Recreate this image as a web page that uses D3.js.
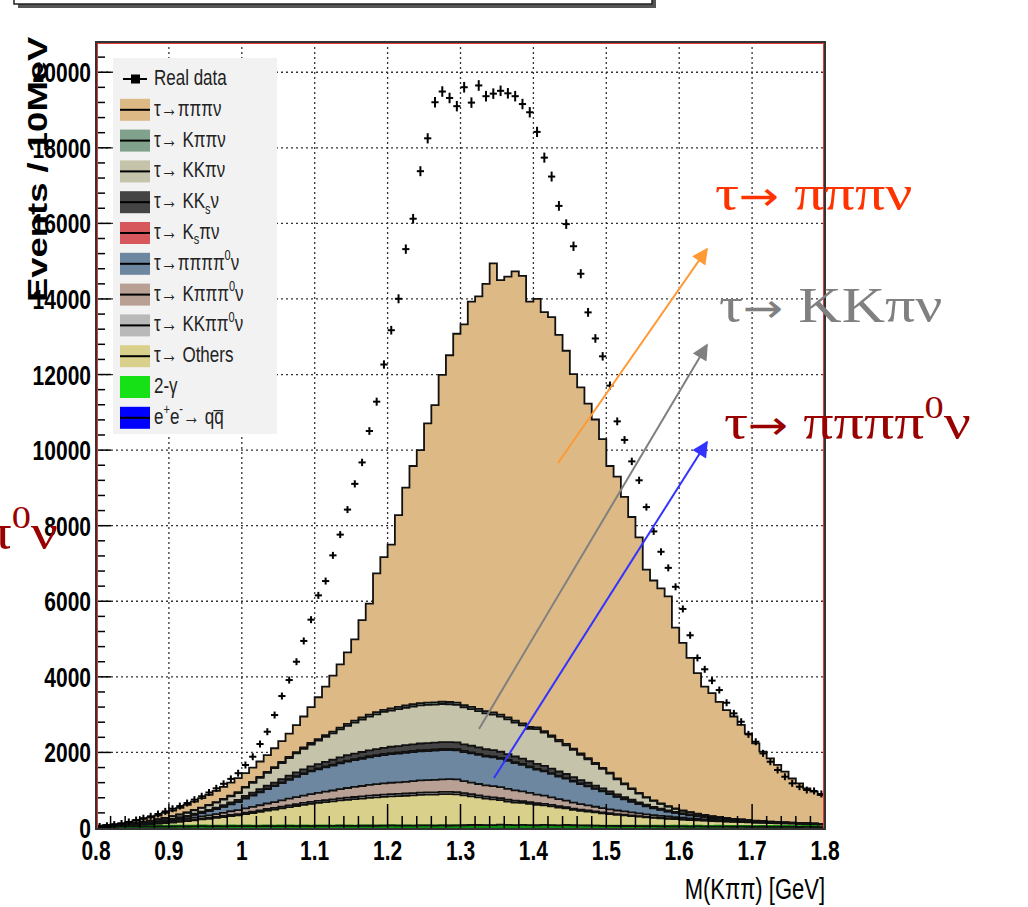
<!DOCTYPE html>
<html>
<head>
<meta charset="utf-8">
<script src="https://d3js.org/d3.v7.min.js"></script>
<style>
  body { margin: 0; background: #fff; }
  svg { display: block; }
</style>
</head>
<body>
<div class="vis"></div>
<script>
  let width = 1028
  let height = 907
  let frame = { left: 96, right: 825, top: 42, bottom: 828 }
  let stretch = 1.35   // the original plot image is squashed horizontally

  // 100 bins of 10 MeV from 0.8 to 1.8 GeV
  let binLow = 0.8
  let binWidth = 0.01

  let realData = [40,60,90,120,160,210,260,310,370,440, 510,580,660,750,840,940,1050,1170,1300,1450,
    1667,1886,2222,2548,2989,3492,3915,4400,4950,5513, 6156,6535,7215,7764,8426,9107,9674,10506,11282,12265,
    13173,14005,15319,16123,17381,18251,19206,19489,19319,19102, 19603,19196,19650,19366,19433,19508,19442,19366,19158,18941,
    18421,17740,17239,16463,15981,15395,14667,13645,12955,12482, 11707,10761,10270,9702,9201,8492,7849,7310,6884,6383,
    5797,5100,4500,4200,3900,3650,3315,3034,2812,2478, 2283,1975,1754,1534,1357,1182,1093,1005,980,900]

  let twoGamma = [25,30,28,32,30,35,33,30,34,31, 33,36,32,35,38,34,36,33,37,35, 38,34,36,39,35,37,40,36,38,35,
    37,39,36,40,38,35,39,37,36,38, 40,37,39,36,38,41,37,39,36,38, 37,39,35,38,36,39,37,35,38,36,
    35,37,34,36,38,35,33,36,34,32, 34,31,33,35,32,30,33,31,29,32, 30,28,31,29,27,30,28,26,29,27,
    25,28,26,24,27,25,23,26,24,22]

  let qqbar = [0,2,3,3,4,5,5,6,6,7, 7,8,8,9,9,10,10,11,11,12, 12,13,13,14,14,15,15,16,16,17,
    17,18,18,19,19,20,20,22,24,26, 28,26,24,28,30,26,28,32,30,34, 36,40,45,38,42,48,44,40,46,42,
    38,44,40,36,42,38,34,30,28,26, 24,22,20,18,17,16,15,14,13,12, 11,10,10,9,9,8,8,7,7,6,
    6,5,5,5,4,4,4,3,3,3]

  let tauOthers = [10,15,20,25,30,40,50,60,75,90, 105,120,140,160,180,200,220,245,270,290,
    320,350,380,410,440,470,500,530,560,590, 610,630,650,670,690,710,720,740,750,760,
    770,780,790,800,810,815,820,825,830,820, 790,760,730,700,680,650,620,600,580,560,
    540,520,500,470,440,410,390,370,350,330, 310,295,280,265,250,235,220,210,200,190,
    180,172,164,156,148,140,134,128,122,116, 110,105,100,96,92,88,84,80,76,72]

  let tauKKPiPi0 = [0,0,0,0,2,4,6,8,10,12, 14,16,18,20,22,24,26,28,30,32, 34,36,38,40,42,44,46,48,50,50,
    52,52,54,54,56,56,58,58,60,60, 60,60,60,60,60,60,60,58,58,56, 56,54,54,52,52,50,50,48,46,44,
    42,40,38,36,34,32,30,28,26,24, 22,20,18,17,16,15,14,13,12,11, 10,9,8,8,7,7,6,6,5,5,
    5,4,4,4,3,3,3,3,2,2]

  let tauKPiPiPi0 = [0,0,2,4,6,9,12,16,20,25, 30,36,42,50,58,66,75,85,95,105, 115,125,135,145,155,165,175,185,195,205,
    215,225,235,245,255,265,275,285,290,295, 300,305,310,315,320,325,330,335,340,340,
    320,310,300,300,300,295,285,275,260,245, 230,215,200,185,170,155,145,135,125,115,
    105,95,88,80,72,66,60,55,50,45, 40,36,32,28,25,22,20,18,16,14, 12,11,10,9,8,7,6,6,5,5]

  let tauPiPiPiPi0 = [0,0,2,5,8,12,16,20,26,32, 40,50,60,75,90,110,130,155,180,210,
    260,300,340,380,420,460,500,540,570,600, 620,640,660,680,700,710,720,730,740,750,
    755,760,765,770,770,770,770,770,770,770, 770,770,770,760,760,750,740,720,700,680,
    660,640,620,600,580,560,530,500,470,440, 400,360,320,280,245,210,180,155,130,110,
    95,80,68,58,48,40,33,27,22,18, 15,12,10,8,7,6,5,4,3,2]

  let tauKsPi = [0,0,0,0,0,1,1,2,2,3, 3,4,5,6,7,8,9,10,11,12, 13,14,15,16,17,18,19,20,21,22,
    23,24,25,26,27,28,29,30,30,30, 31,31,32,32,32,32,32,32,31,31, 30,30,29,28,27,26,25,24,23,22,
    21,20,19,18,17,16,15,14,13,12, 11,10,9,8,8,7,7,6,6,5, 5,4,4,4,3,3,3,2,2,2, 2,2,1,1,1,1,1,1,1,1]

  let tauKKs = [0,0,0,1,2,3,4,6,8,10, 12,15,18,22,26,30,35,40,45,50, 56,62,68,74,80,86,92,98,104,110,
    116,122,128,134,140,146,150,154,158,162, 166,170,172,174,176,178,180,180,180,178,
    176,174,172,168,164,160,156,150,144,138, 132,126,120,114,108,100,92,84,76,68,
    62,56,50,45,40,36,32,28,25,22, 19,16,14,12,10,9,8,7,6,5, 4,4,3,3,2,2,2,1,1,1]

  let tauKKPi = [5,10,15,20,25,30,36,42,48,55, 62,70,80,90,100,115,130,145,160,180,
    220,260,300,340,380,420,460,500,540,580, 620,660,700,740,780,820,860,890,920,950,
    960,975,990,1000,1010,1010,1010,1010,1000,990, 980,970,960,950,940,930,920,900,880,860,
    920,880,840,800,760,720,670,620,570,520, 470,400,340,280,230,190,155,125,100,80,
    65,55,45,38,32,27,23,19,16,13, 11,9,7,6,5,4,3,3,2,2]

  let tauKPiPi = [0,0,1,1,2,2,3,3,4,5, 6,7,8,9,10,12,14,16,18,20, 22,24,26,28,30,32,34,36,38,40,
    42,44,46,48,50,52,54,55,56,57, 58,59,60,60,60,60,60,60,60,60, 59,58,57,56,55,54,52,50,48,46,
    44,42,40,38,36,34,32,30,28,26, 24,22,20,18,16,14,12,11,10,9, 8,7,6,5,5,4,4,3,3,3, 2,2,2,2,1,1,1,1,1,1]

  let tauPiPiPi = [20,23,29,34,41,59,74,87,97,130, 148,168,199,224,250,271,295,322,343,374,
    360,382,409,444,497,553,619,711,818,951, 1108,1286,1478,1674,1895,2148,2575,2939,3676,4042,
    4332,5077,5768,6305,6694,7393,7863,8649,9175,9763, 10076,10725,10918,11310,11884,11498,11661,11888,11845,11257,
    11338,11086,11069,10717,10405,9910,9689,9383,9090,8697, 8118,7989,7582,7184,6764,6021,5822,5692,5555,4784,
    4437,4083,3718,3393,3256,3050,2853,2707,2502,2291, 2048,1838,1672,1512,1340,1169,1048,922,842,759]

  // stacking order, bottom first
  let stackKeys = ['twoGamma', 'qqbar', 'tauOthers', 'tauKKPiPi0', 'tauKPiPiPi0', 'tauPiPiPiPi0',
    'tauKsPi', 'tauKKs', 'tauKKPi', 'tauKPiPi', 'tauPiPiPi']
  let series = { twoGamma, qqbar, tauOthers, tauKKPiPi0, tauKPiPiPi0, tauPiPiPiPi0,
    tauKsPi, tauKKs, tauKKPi, tauKPiPi, tauPiPiPi }
  let colors = {
    tauPiPiPi: '#dcb985', tauKPiPi: '#80a28c', tauKKPi: '#c6c3ab', tauKKs: '#444444',
    tauKsPi: '#d6585c', tauPiPiPiPi0: '#6d87a0', tauKPiPiPi0: '#b9a094', tauKKPiPi0: '#b9b9b9',
    tauOthers: '#d9d08b', twoGamma: '#16e016', qqbar: '#0000ff'
  }

  // legend rows, top to bottom: [key, label pieces]
  let legendRows = [
    ['data', [['Real data', '']]],
    ['tauPiPiPi', [['τ→πππν', '']]],
    ['tauKPiPi', [['τ→ Kππν', '']]],
    ['tauKKPi', [['τ→ KKπν', '']]],
    ['tauKKs', [['τ→ KK', ''], ['s', 'sub'], ['ν', '']]],
    ['tauKsPi', [['τ→ K', ''], ['s', 'sub'], ['πν', '']]],
    ['tauPiPiPiPi0', [['τ→ππππ', ''], ['0', 'sup'], ['ν', '']]],
    ['tauKPiPiPi0', [['τ→ Kπππ', ''], ['0', 'sup'], ['ν', '']]],
    ['tauKKPiPi0', [['τ→ KKππ', ''], ['0', 'sup'], ['ν', '']]],
    ['tauOthers', [['τ→ Others', '']]],
    ['twoGamma', [['2-γ', '']]],
    ['qqbar', [['e', ''], ['+', 'sup'], ['e', ''], ['-', 'sup'], ['→ qq̅', '']]]
  ]

  let xTicks = [0.8, 0.9, 1.0, 1.1, 1.2, 1.3, 1.4, 1.5, 1.6, 1.7, 1.8]
  let xTickLabels = ['0.8', '0.9', '1', '1.1', '1.2', '1.3', '1.4', '1.5', '1.6', '1.7', '1.8']
  let yTicks = [0, 2000, 4000, 6000, 8000, 10000, 12000, 14000, 16000, 18000, 20000]

  let svg = d3.select('.vis').append('svg').attr('width', width).attr('height', height)
    .attr('viewBox', [0, 0, width, height])
  svg.append('rect').attr('width', width).attr('height', height).attr('fill', '#fff')

  let x = d3.scaleLinear().domain([0.8, 1.8]).range([frame.left, frame.right])
  let y = d3.scaleLinear().domain([0, 20800]).range([frame.bottom, frame.top])

  // title box cut at the top of the picture
  svg.append('rect').attr('x', 18).attr('y', -30).attr('width', 638).attr('height', 38).attr('fill', '#555')
  svg.append('rect').attr('x', 14).attr('y', -34).attr('width', 638).attr('height', 38)
    .attr('fill', '#fff').attr('stroke', '#222').attr('stroke-width', 1.5)

  // grid
  let grid = svg.append('g').attr('stroke', '#333').attr('stroke-width', 1.3).attr('stroke-dasharray', '2,3')
  grid.selectAll('.gx').data(xTicks.slice(1, -1)).join('line')
    .attr('x1', d => x(d)).attr('x2', d => x(d)).attr('y1', frame.top).attr('y2', frame.bottom)
  grid.selectAll('.gy').data(yTicks.slice(1)).join('line')
    .attr('x1', frame.left).attr('x2', frame.right).attr('y1', d => y(d)).attr('y2', d => y(d))

  // stacked histogram
  let table = d3.range(realData.length).map(i => {
    let row = { lo: binLow + i * binWidth, hi: binLow + (i + 1) * binWidth }
    stackKeys.forEach(k => row[k] = series[k][i])
    return row
  })
  let stacked = d3.stack().keys(stackKeys)(table)

  let steps = s => s.flatMap(d => [
    { x: d.data.lo, y0: d[0], y1: d[1] },
    { x: d.data.hi, y0: d[0], y1: d[1] }
  ])
  let area = d3.area().x(d => x(d.x)).y0(d => y(d.y0)).y1(d => y(d.y1))
  let outline = d3.line().x(d => x(d.x)).y(d => y(d.y1))

  let hist = svg.append('g')
  hist.selectAll('path.fill').data(stacked).join('path')
    .attr('class', 'fill')
    .attr('d', s => area(steps(s)))
    .attr('fill', s => colors[s.key])
  hist.selectAll('path.edge').data(stacked).join('path')
    .attr('class', 'edge')
    .attr('d', s => outline(steps(s)))
    .attr('fill', 'none')
    .attr('stroke', s => s.key === 'twoGamma' ? '#0b8f0b' : '#111')
    .attr('stroke-width', s => s.key === 'twoGamma' ? 4 : 1.8)

  // data points
  let pts = svg.append('g').attr('stroke', '#000').attr('stroke-width', 2)
  realData.forEach((v, i) => {
    let c = binLow + (i + 0.5) * binWidth
    let e = Math.max(y(v) - y(v + Math.sqrt(v)), 3.5)
    pts.append('line').attr('x1', x(c) - 3.6).attr('x2', x(c) + 3.6).attr('y1', y(v)).attr('y2', y(v))
    pts.append('line').attr('x1', x(c)).attr('x2', x(c)).attr('y1', y(v) - e).attr('y2', y(v) + e)
  })

  // axis ticks
  let ticks = svg.append('g').attr('stroke', '#000').attr('stroke-width', 1.5)
  d3.range(0, 51).forEach(j => {
    let v = 0.8 + j * 0.02
    let major = j % 5 === 0
    ticks.append('line').attr('x1', x(v)).attr('x2', x(v))
      .attr('y1', frame.bottom).attr('y2', frame.bottom - (major ? 24 : 12))
  })
  d3.range(0, 53).forEach(j => {
    let v = j * 400
    let major = j % 5 === 0
    ticks.append('line').attr('x1', frame.left).attr('x2', frame.left + (major ? 15 : 9))
      .attr('y1', y(v)).attr('y2', y(v))
  })

  let label = (g, tx, ty, txt, opts) => g.append('text')
    .attr('transform', `translate(${tx},${ty}) scale(1,${stretch})`)
    .attr('text-anchor', opts.anchor || 'middle')
    .attr('font-family', 'Liberation Sans, Arial, sans-serif')
    .attr('font-size', opts.size)
    .attr('font-weight', opts.weight || 'normal')
    .attr('fill', opts.fill || '#000')
    .text(txt)

  let axes = svg.append('g')
  xTicks.forEach((v, i) => label(axes, x(v), 860, xTickLabels[i], { size: 21, weight: 'bold' }))
  yTicks.forEach(v => label(axes, 91, y(v) + 10, d3.format('d')(v), { size: 21, weight: 'bold', anchor: 'end' }))
  label(axes, 825, 899, 'M(Kππ) [GeV]', { size: 22, anchor: 'end' })
  axes.append('text')
    .attr('transform', `translate(47,302) rotate(-90) scale(${stretch},1)`)
    .attr('font-family', 'Liberation Sans, Arial, sans-serif')
    .attr('font-size', 27).attr('font-weight', 'bold')
    .text('Events / 10MeV')

  // legend
  let leg = svg.append('g')
  leg.append('rect').attr('x', 113).attr('y', 58).attr('width', 164).attr('height', 376).attr('fill', '#f2f2f2')
  legendRows.forEach(([key, pieces], k) => {
    let cy = 79 + k * 30.8
    if (key === 'data') {
      leg.append('line').attr('x1', 123).attr('x2', 147).attr('y1', cy).attr('y2', cy)
        .attr('stroke', '#000').attr('stroke-width', 2)
      leg.append('rect').attr('x', 131).attr('y', cy - 4.5).attr('width', 9).attr('height', 9).attr('fill', '#000')
    } else {
      leg.append('rect').attr('x', 120).attr('y', cy - 11).attr('width', 30).attr('height', 22)
        .attr('fill', colors[key])
      if (key !== 'twoGamma') {
        leg.append('line').attr('x1', 120).attr('x2', 150).attr('y1', cy).attr('y2', cy)
          .attr('stroke', '#000').attr('stroke-width', 2)
      }
    }
    let t = leg.append('text')
      .attr('transform', `translate(154,${cy + 6}) scale(1,${stretch})`)
      .attr('font-family', 'Liberation Sans, Arial, sans-serif')
      .attr('font-size', 17).attr('fill', '#222')
    let shift = 0
    pieces.forEach(([s, mode]) => {
      let span = t.append('tspan').text(s)
      let target = mode === 'sub' ? 4 : mode === 'sup' ? -7 : 0
      if (mode) span.attr('font-size', 11)
      if (target !== shift) span.attr('dy', target - shift)
      shift = target
    })
  })

  // frame
  svg.append('rect').attr('x', frame.left + 1.5).attr('y', frame.top + 1.5)
    .attr('width', frame.right - frame.left - 3).attr('height', frame.bottom - frame.top)
    .attr('fill', 'none').attr('stroke', '#e03a3a').attr('stroke-width', 1)
  svg.append('rect').attr('x', frame.left).attr('y', frame.top)
    .attr('width', frame.right - frame.left).attr('height', frame.bottom - frame.top + 1)
    .attr('fill', 'none').attr('stroke', '#333').attr('stroke-width', 2)

  // annotations added on top of the plot
  let notes = [
    { color: '#ff9933', from: [558, 463], to: [707, 249] },
    { color: '#808080', from: [479, 729], to: [707, 345] },
    { color: '#3333ff', from: [494, 778], to: [707, 442] }
  ]
  let defs = svg.append('defs')
  notes.forEach((n, i) => {
    defs.append('marker').attr('id', 'arr' + i).attr('viewBox', '0 0 10 10')
      .attr('refX', 9).attr('refY', 5).attr('markerWidth', 9).attr('markerHeight', 8)
      .attr('markerUnits', 'strokeWidth').attr('orient', 'auto')
      .append('path').attr('d', 'M0,0 L10,5 L0,10 Z').attr('fill', n.color)
    svg.append('line').attr('x1', n.from[0]).attr('y1', n.from[1]).attr('x2', n.to[0]).attr('y2', n.to[1])
      .attr('stroke', n.color).attr('stroke-width', 2).attr('marker-end', `url(#arr${i})`)
  })

  // pieces: [text, kind] with kind '' (plain), 'arrow' or 'sup'
  let serif = 'Liberation Serif, Times New Roman, serif'
  let addNote = (tx, ty, pieces, fill, anchor) => {
    let t = svg.append('text')
      .attr('transform', `translate(${tx},${ty}) scale(1.2,1)`)
      .attr('fill', fill)
      .attr('font-family', serif).attr('font-size', 50).attr('text-anchor', anchor || 'start')
    let shift = 0
    pieces.forEach(([s, kind]) => {
      let span = t.append('tspan').text(s)
      let target = kind === 'sup' ? -21 : 0
      if (kind === 'sup') span.attr('font-size', 32)
      if (kind === 'arrow') span.attr('font-family', 'DejaVu Sans, sans-serif').attr('font-size', 40)
      if (target !== shift) span.attr('dy', target - shift)
      shift = target
    })
  }
  addNote(715, 210, [['τ', ''], ['→', 'arrow'], [' πππν', '']], '#ff3300')
  addNote(719, 322, [['τ', ''], ['→', 'arrow'], [' KKπν', '']], '#808080')
  addNote(724, 439, [['τ', ''], ['→', 'arrow'], [' ππππ', ''], ['0', 'sup'], ['ν', '']], '#990000')
  addNote(58, 549, [['π', ''], ['0', 'sup'], ['ν', '']], '#990000', 'end')
</script>
</body>
</html>
